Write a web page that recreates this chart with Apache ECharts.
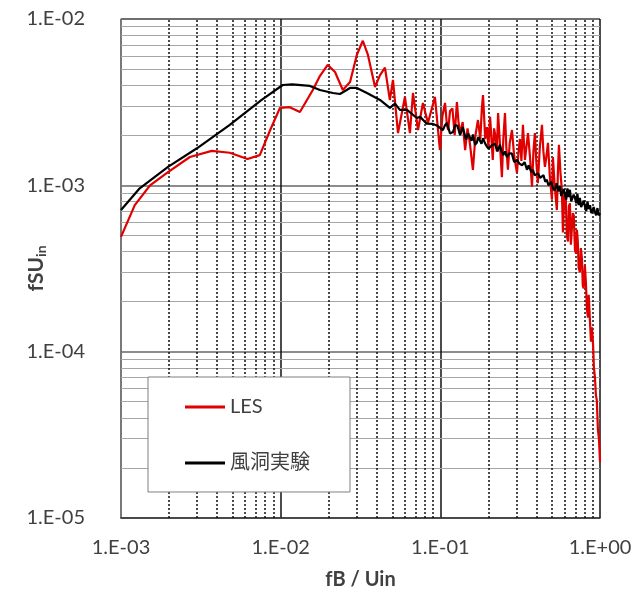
<!DOCTYPE html>
<html>
<head>
<meta charset="utf-8">
<script src="https://cdn.jsdelivr.net/npm/echarts@6/dist/echarts.min.js"></script>
<style>
  html, body { margin: 0; padding: 0; background: #fff; }
  #chart { width: 644px; height: 594px; }
</style>
</head>
<body>
<div id="chart"></div>
<script>
// LES spectrum: [fB/Uin, fS/Uin]
const lesPoints = [
  [0.001, 4.9e-4], [0.00122, 7.6e-4], [0.00152, 1.0e-3], [0.00197, 1.2e-3], [0.0027, 1.48e-3],
  [0.0037, 1.61e-3], [0.0048, 1.57e-3], [0.0062, 1.44e-3], [0.0074, 1.52e-3], [0.0086, 2.15e-3],
  [0.0099, 2.92e-3], [0.0114, 2.95e-3], [0.0132, 2.76e-3], [0.0159, 3.74e-3], [0.0176, 4.54e-3],
  [0.0197, 5.3e-3], [0.0219, 4.8e-3], [0.0245, 3.74e-3], [0.0272, 4.18e-3], [0.030, 6.08e-3],
  [0.0327, 7.4e-3], [0.0352, 6.08e-3], [0.039, 3.9e-3], [0.0419, 4.6e-3], [0.045, 5.1e-3],
  [0.0483, 3.26e-3], [0.0505, 4.3e-3], [0.0543, 2.06e-3], [0.060, 3.4e-3], [0.0645, 2.06e-3],
  [0.0674, 3.59e-3], [0.0725, 2.15e-3], [0.0778, 3.13e-3], [0.0836, 2.37e-3], [0.0925, 3.4e-3],
  [0.0994, 1.63e-3], [0.103, 2.6e-3], [0.107, 3.13e-3], [0.110, 2.3e-3], [0.112, 2.15e-3],
  [0.115, 2.8e-3], [0.119, 2.9e-3], [0.123, 2.0e-3], [0.127, 3.17e-3], [0.130, 2.4e-3],
  [0.133, 2.06e-3], [0.138, 2.4e-3], [0.143, 1.63e-3], [0.148, 2.2e-3], [0.153, 1.8e-3],
  [0.160, 1.24e-3], [0.166, 2.0e-3], [0.172, 2.47e-3], [0.178, 1.9e-3], [0.182, 2.9e-3],
  [0.185, 3.49e-3], [0.188, 2.6e-3], [0.191, 1.9e-3], [0.196, 2.24e-3], [0.200, 1.7e-3],
  [0.205, 2.58e-3], [0.209, 1.9e-3], [0.213, 1.42e-3], [0.217, 2.2e-3], [0.221, 2.0e-3],
  [0.226, 1.6e-3], [0.230, 2.72e-3], [0.236, 1.8e-3], [0.243, 1.12e-3], [0.248, 1.9e-3],
  [0.254, 2.72e-3], [0.259, 1.7e-3], [0.265, 1.24e-3], [0.272, 1.8e-3], [0.281, 2.15e-3],
  [0.290, 1.5e-3], [0.302, 1.19e-3], [0.309, 1.6e-3], [0.315, 1.9e-3], [0.322, 1.4e-3],
  [0.329, 2.31e-3], [0.334, 1.8e-3], [0.339, 1.42e-3], [0.346, 1.7e-3], [0.354, 2.06e-3],
  [0.364, 1.5e-3], [0.375, 9.8e-4], [0.383, 1.6e-3], [0.391, 2.06e-3], [0.399, 1.4e-3],
  [0.408, 1.03e-3], [0.420, 1.7e-3], [0.433, 2.31e-3], [0.442, 1.6e-3], [0.452, 1.29e-3],
  [0.462, 1.5e-3], [0.472, 1.8e-3], [0.486, 1.1e-3], [0.500, 8.2e-4], [0.507, 1.48e-3],
  [0.520, 1.0e-3], [0.537, 7.1e-4], [0.545, 1.2e-3], [0.553, 1.75e-3], [0.565, 1.2e-3],
  [0.577, 9.4e-4], [0.586, 5.2e-4], [0.598, 9.0e-4], [0.611, 8.2e-4], [0.620, 5.0e-4],
  [0.630, 4.6e-4], [0.639, 7.5e-4], [0.648, 7.8e-4], [0.657, 4.4e-4], [0.667, 4.4e-4],
  [0.676, 6.8e-4], [0.685, 6.6e-4], [0.697, 4.1e-4], [0.707, 3.9e-4], [0.717, 5.4e-4],
  [0.726, 4.6e-4], [0.735, 3.2e-4], [0.748, 3.0e-4], [0.759, 4.2e-4], [0.771, 3.6e-4],
  [0.780, 2.5e-4], [0.790, 2.4e-4], [0.804, 3.3e-4], [0.816, 2.6e-4], [0.828, 1.8e-4],
  [0.840, 1.6e-4], [0.850, 2.2e-4], [0.866, 1.5e-4], [0.878, 1.15e-4], [0.890, 1.4e-4],
  [0.905, 1.1e-4], [0.916, 8.0e-5], [0.930, 7.0e-5], [0.942, 5.5e-5], [0.955, 5.1e-5],
  [0.970, 3.4e-5], [0.985, 3.0e-5], [1.0, 2.17e-5]
];

// wind tunnel spectrum
const expPoints = [
  [0.001, 7.1e-4], [0.00131, 9.6e-4], [0.00197, 1.29e-3], [0.00299, 1.67e-3], [0.0048, 2.31e-3],
  [0.0076, 3.26e-3], [0.0103, 4.01e-3], [0.0118, 4.05e-3], [0.01525, 3.96e-3], [0.01762, 3.74e-3],
  [0.02125, 3.59e-3], [0.0235, 3.54e-3], [0.0272, 3.85e-3], [0.030, 3.85e-3], [0.0347, 3.59e-3],
  [0.0419, 3.26e-3], [0.0483, 2.92e-3], [0.052, 3.1e-3], [0.0558, 2.84e-3], [0.0618, 2.84e-3],
  [0.0713, 2.54e-3], [0.0747, 2.58e-3], [0.082, 2.35e-3], [0.0899, 2.34e-3], [0.096, 2.28e-3],
  [0.1038, 2.15e-3], [0.107, 2.3e-3], [0.110, 2.37e-3], [0.115, 2.05e-3], [0.120, 2.09e-3],
  [0.124, 2.3e-3], [0.128, 2.28e-3], [0.133, 2.0e-3], [0.138, 2.24e-3], [0.145, 1.88e-3],
  [0.149, 2.05e-3], [0.153, 1.95e-3], [0.157, 1.85e-3], [0.160, 2.02e-3], [0.165, 1.75e-3],
  [0.169, 1.8e-3], [0.173, 1.95e-3], [0.177, 1.96e-3], [0.181, 1.78e-3], [0.185, 1.92e-3],
  [0.190, 1.8e-3], [0.195, 1.72e-3], [0.200, 1.66e-3], [0.205, 1.63e-3], [0.212, 1.75e-3],
  [0.220, 1.78e-3], [0.228, 1.6e-3], [0.236, 1.75e-3], [0.242, 1.6e-3], [0.248, 1.52e-3],
  [0.254, 1.6e-3], [0.261, 1.48e-3], [0.270, 1.55e-3], [0.280, 1.56e-3], [0.290, 1.38e-3],
  [0.302, 1.42e-3], [0.313, 1.35e-3], [0.325, 1.32e-3], [0.337, 1.38e-3], [0.349, 1.24e-3],
  [0.357, 1.32e-3], [0.365, 1.3e-3], [0.372, 1.2e-3], [0.380, 1.24e-3], [0.390, 1.15e-3],
  [0.400, 1.16e-3], [0.410, 1.18e-3], [0.421, 1.11e-3], [0.432, 1.08e-3], [0.443, 1.15e-3],
  [0.454, 1.05e-3], [0.465, 1.08e-3], [0.475, 1.0e-3], [0.485, 1.02e-3], [0.496, 1.05e-3],
  [0.507, 9.6e-4], [0.520, 9.3e-4], [0.535, 1.03e-3], [0.548, 9.2e-4], [0.561, 9.9e-4],
  [0.572, 8.6e-4], [0.582, 8.8e-4], [0.592, 9.5e-4], [0.603, 8.9e-4], [0.614, 8.2e-4],
  [0.625, 9.6e-4], [0.636, 8.5e-4], [0.648, 9.4e-4], [0.660, 8.0e-4], [0.672, 8.2e-4],
  [0.684, 8.8e-4], [0.697, 8.4e-4], [0.710, 7.8e-4], [0.722, 8.9e-4], [0.735, 7.6e-4],
  [0.748, 8.4e-4], [0.762, 7.4e-4], [0.775, 7.6e-4], [0.790, 8.1e-4], [0.804, 7.5e-4],
  [0.820, 7.0e-4], [0.835, 8.0e-4], [0.850, 7.2e-4], [0.866, 7.6e-4], [0.882, 6.8e-4],
  [0.897, 7.0e-4], [0.913, 7.4e-4], [0.929, 6.9e-4], [0.946, 6.6e-4], [0.964, 7.3e-4],
  [0.982, 6.6e-4], [1.0, 6.8e-4]
];

const seriesNames = ['LES', '風洞実験'];
const minorSteps = [2, 3, 4, 5, 6, 7, 8, 9];
const xDecades = [-3, -2, -1];
const yDecades = [-5, -4, -3];
const xRange = [0.001, 1];
const yRange = [1e-5, 1e-2];

const font = 'Lato, "Noto Sans CJK JP", sans-serif';
const textColor = '#404040';

// minor gridlines at 2..9 of every decade
const minorXLines = [];
xDecades.forEach(e => minorSteps.forEach(m => {
  const v = m * Math.pow(10, e);
  minorXLines.push({ coords: [[v, yRange[0]], [v, yRange[1]]] });
}));
const minorYLines = [];
yDecades.forEach(e => minorSteps.forEach(m => {
  const v = m * Math.pow(10, e);
  minorYLines.push({ coords: [[xRange[0], v], [xRange[1], v]] });
}));

const expLabel = v => {
  const e = Math.round(Math.log10(v));
  const s = e < 0 ? '-' : '+';
  const a = Math.abs(e);
  return '1.E' + s + (a < 10 ? '0' + a : a);
};

const chart = echarts.init(document.getElementById('chart'));

const option = {
  animation: false,
  grid: { left: 121, right: 44, top: 19, bottom: 76, outerBoundsMode: 'none' },
  legend: {
    data: seriesNames.map(n => ({ name: n, icon: 'rect' })),
    orient: 'vertical',
    left: 148,
    top: 377,
    padding: [20, 40, 19, 37],
    itemGap: 36,
    itemWidth: 40,
    itemHeight: 3,
    backgroundColor: '#fff',
    borderColor: '#7f7f7f',
    borderWidth: 1,
    textStyle: { fontSize: 20, color: textColor, fontFamily: font }
  },
  xAxis: {
    type: 'log',
    logBase: 10,
    min: xRange[0],
    max: xRange[1],
    name: 'fB / Uin',
    nameLocation: 'middle',
    nameGap: 52,
    nameMoveOverlap: false,
    nameTextStyle: { fontSize: 20, fontWeight: 'bold', color: textColor, fontFamily: font },
    axisLine: { show: true, lineStyle: { color: '#333', width: 1.5 } },
    axisTick: { show: false },
    axisLabel: { formatter: expLabel, fontSize: 20, color: textColor, margin: 20, fontFamily: font },
    splitLine: { show: true, lineStyle: { color: '#111', width: 1.5 } }
  },
  yAxis: {
    type: 'log',
    logBase: 10,
    min: yRange[0],
    max: yRange[1],
    name: '{a|fSU}{b|in}',
    nameLocation: 'middle',
    nameRotate: 90,
    nameGap: 73,
    nameMoveOverlap: false,
    nameTextStyle: {
      rich: {
        a: { fontSize: 21, fontWeight: 'bold', color: textColor, fontFamily: font },
        b: { fontSize: 14, fontWeight: 'bold', color: textColor, fontFamily: font, padding: [10, 0, 0, 0] }
      }
    },
    axisLine: { show: true, lineStyle: { color: '#888', width: 1.5 } },
    axisTick: { show: false },
    axisLabel: {
      formatter: expLabel, fontSize: 20, color: textColor, margin: 26,
      padding: [0, 10, 0, 0], fontFamily: font
    },
    splitLine: { show: true, lineStyle: { color: '#666', width: 1.5 } }
  },
  series: [
    {
      name: 'minorY',
      type: 'lines',
      coordinateSystem: 'cartesian2d',
      silent: true,
      z: 1,
      data: minorYLines,
      lineStyle: { type: 'solid', color: '#a6a6a6', width: 1, opacity: 1 }
    },
    {
      name: 'minorX',
      type: 'lines',
      coordinateSystem: 'cartesian2d',
      silent: true,
      z: 1,
      data: minorXLines,
      lineStyle: { type: [2, 2], color: '#111', width: 1.5, opacity: 1 }
    },
    {
      name: 'LES',
      type: 'line',
      symbol: 'none',
      showSymbol: false,
      z: 3,
      data: lesPoints,
      lineStyle: { color: '#e00000', width: 2.2 },
      itemStyle: { color: '#e00000' }
    },
    {
      name: '風洞実験',
      type: 'line',
      symbol: 'none',
      showSymbol: false,
      z: 4,
      data: expPoints,
      lineStyle: { color: '#000', width: 2.2 },
      itemStyle: { color: '#000' }
    }
  ]
};

chart.setOption(option);
</script>
</body>
</html>
